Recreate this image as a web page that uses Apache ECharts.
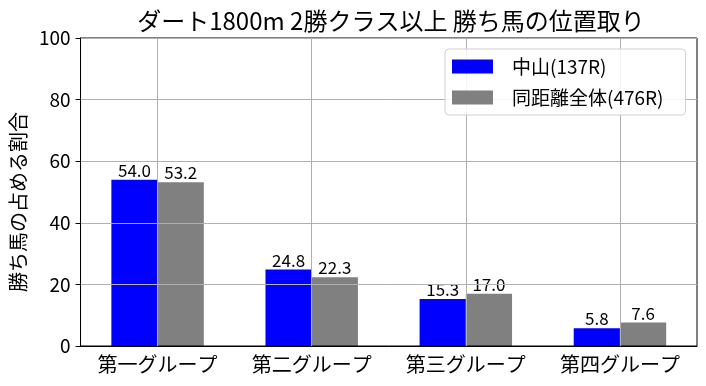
<!DOCTYPE html>
<html><head><meta charset="utf-8">
<script src="https://cdn.jsdelivr.net/npm/echarts@6/dist/echarts.min.js"></script>
<style>html,body{margin:0;padding:0;background:#fff}#c{width:706px;height:386px}</style>
</head><body><div id="c"></div>
<script>
const categories = ['第一グループ', '第二グループ', '第三グループ', '第四グループ'];
const nakayama = [54.0, 24.8, 15.3, 5.8];
const allDist = [53.2, 22.3, 17.0, 7.6];
const seriesNames = ['中山(137R)', '同距離全体(476R)'];
const yTicks = [0, 20, 40, 60, 80, 100];
const titleText = 'ダート1800m 2勝クラス以上 勝ち馬の位置取り';
const yName = '勝ち馬の占める割合';
const FONT = '"Noto Sans CJK JP", sans-serif';
// helper half-step positions for grid lines at category centres
const halfSteps = [];
for (let i = 0; i <= 2 * categories.length; i++) halfSteps.push(String(i));

const chart = echarts.init(document.getElementById('c'), null, {renderer: 'canvas'});
chart.setOption({
  animation: false,
  title: {text: titleText, left: 386, textAlign: 'center', top: 4,
    textStyle: {fontFamily: FONT, fontSize: 24, fontWeight: 'normal', color: '#000'}},
  grid: {left: 74, right: 9, top: 38, bottom: 40, show: true, borderColor: '#000', borderWidth: 1, z: 3},
  legend: {orient: 'vertical', left: 445, top: 49, z: 6, icon: 'rect',
    data: seriesNames, itemWidth: 41, itemHeight: 14, itemGap: 12,
    padding: [8, 22, 8, 7], borderColor: '#d0d0d0', borderWidth: 1, borderRadius: 4,
    backgroundColor: 'rgba(255,255,255,0.85)',
    textStyle: {fontFamily: FONT, fontSize: 19, color: '#000', padding: [0, 0, 0, 14], lineHeight: 19}},
  xAxis: [{
    type: 'category', data: categories, z: 3,
    axisLine: {lineStyle: {color: '#000'}},
    axisTick: {alignWithLabel: true, length: 5, lineStyle: {color: '#000'}},
    axisLabel: {interval: 0, fontFamily: FONT, fontSize: 20, color: '#000', margin: 8},
    splitLine: {show: false}
  }, {
    type: 'category', data: halfSteps, boundaryGap: false, position: 'bottom', z: 3,
    axisLine: {show: false}, axisTick: {show: false}, axisLabel: {show: false},
    splitLine: {show: true, interval: (i) => i % 2 === 1, lineStyle: {color: '#b0b0b0', width: 1}}
  }],
  yAxis: {
    type: 'value', min: yTicks[0], max: yTicks[yTicks.length - 1], interval: 20, z: 3,
    name: yName, nameLocation: 'middle', nameGap: 52,
    nameTextStyle: {fontFamily: FONT, fontSize: 20, color: '#000', padding: [0, 20, 0, 0]},
    axisLine: {show: true, lineStyle: {color: '#000'}},
    axisTick: {show: true, length: 5, lineStyle: {color: '#000'}},
    axisLabel: {fontFamily: FONT, fontSize: 19, color: '#000', margin: 10},
    splitLine: {show: true, lineStyle: {color: '#b0b0b0', width: 1}}
  },
  series: [{
    name: seriesNames[0], type: 'bar', data: nakayama, barWidth: '30%', barGap: '0%', z: 2,
    itemStyle: {color: '#0000ff'},
    label: {show: true, position: 'top', distance: 1, fontFamily: FONT, fontSize: 17, color: '#000',
      formatter: p => p.value.toFixed(1)}
  }, {
    name: seriesNames[1], type: 'bar', data: allDist, barWidth: '30%', barGap: '0%', z: 2,
    itemStyle: {color: '#808080'},
    label: {show: true, position: 'top', distance: 1, fontFamily: FONT, fontSize: 17, color: '#000',
      formatter: p => p.value.toFixed(1)}
  }]
});
</script></body></html>
